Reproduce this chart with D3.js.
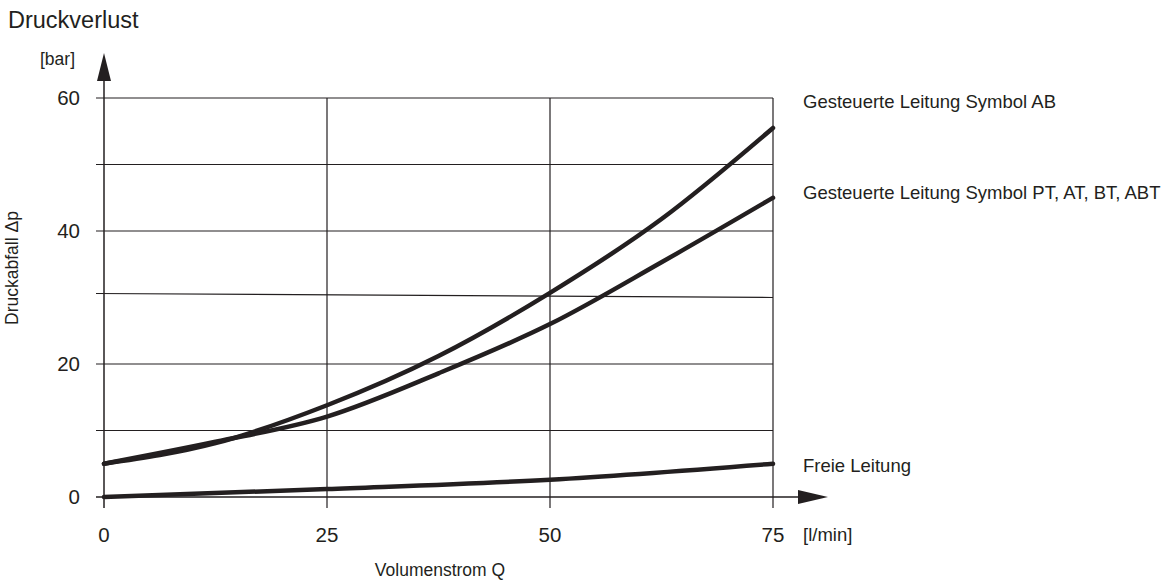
<!DOCTYPE html>
<html>
<head>
<meta charset="utf-8">
<script src="https://cdn.jsdelivr.net/npm/d3@7"></script>
<style>
  body { margin: 0; background: #fff; }
  svg { font-family: "Liberation Sans", Arial, sans-serif; }
</style>
</head>
<body>
<div id="chart"></div>
<script>
// data
const flow = [0, 12.5, 25, 37.5, 50, 62.5, 75];
const symbolAB = [5, 8.1, 13.8, 21.2, 30.7, 41.8, 55.5];
const symbolPT = [5, 8.3, 12.1, 18.6, 26, 35.3, 45];
const freeFlow = [0, 25, 50, 75];
const freeLine = [0, 1.2, 2.6, 5];
const xTicks = [0, 25, 50, 75];
const yTicks = [0, 10, 20, 30, 40, 50, 60];
const yLabels = [0, 20, 40, 60];
const line30 = [30.6, 30.0]; // slightly skewed grid line in the scan
const seriesNames = ["Gesteuerte Leitung Symbol AB", "Gesteuerte Leitung Symbol PT, AT, BT, ABT", "Freie Leitung"];

const width = 1167, height = 582;
const ink = "#231f20";

const svg = d3.select("#chart").append("svg")
    .attr("width", width)
    .attr("height", height);

const x = d3.scaleLinear().domain([0, 75]).range([104, 773]);
const y = d3.scaleLinear().domain([0, 60]).range([497, 98]);

// horizontal grid
svg.append("g")
    .selectAll("line")
    .data(yTicks.filter(d => d !== 30 && d !== 0))
    .join("line")
    .attr("x1", x(0) - 8)
    .attr("x2", x(75))
    .attr("y1", d => y(d))
    .attr("y2", d => y(d))
    .attr("stroke", ink)
    .attr("stroke-width", 1.2);

svg.append("line")
    .attr("x1", x(0) - 8)
    .attr("x2", x(75))
    .attr("y1", y(line30[0]))
    .attr("y2", y(line30[1]))
    .attr("stroke", ink)
    .attr("stroke-width", 1.2);

// vertical grid
svg.append("g")
    .selectAll("line")
    .data(xTicks.filter(d => d !== 0))
    .join("line")
    .attr("x1", d => x(d))
    .attr("x2", d => x(d))
    .attr("y1", y(60))
    .attr("y2", y(0) + 11)
    .attr("stroke", ink)
    .attr("stroke-width", 1.2);

// axes with arrow heads
svg.append("line")
    .attr("x1", x(0)).attr("x2", x(0))
    .attr("y1", y(0) + 11).attr("y2", 70)
    .attr("stroke", ink).attr("stroke-width", 1.5);
svg.append("path")
    .attr("d", `M${x(0)},53 L${x(0) - 7},81 L${x(0) + 7},81 Z`)
    .attr("fill", ink);

svg.append("line")
    .attr("x1", x(0) - 8).attr("x2", 810)
    .attr("y1", y(0)).attr("y2", y(0))
    .attr("stroke", ink).attr("stroke-width", 1.5);
svg.append("path")
    .attr("d", `M828,${y(0)} L798,${y(0) - 7} L798,${y(0) + 7} Z`)
    .attr("fill", ink);

// tick labels
svg.append("g")
    .selectAll("text")
    .data(yLabels)
    .join("text")
    .attr("x", 80)
    .attr("y", d => y(d))
    .attr("dy", "0.35em")
    .attr("text-anchor", "end")
    .attr("font-size", 20.5)
    .attr("fill", ink)
    .text(d => d);

svg.append("g")
    .selectAll("text")
    .data(xTicks)
    .join("text")
    .attr("x", d => x(d))
    .attr("y", 535)
    .attr("dy", "0.35em")
    .attr("text-anchor", "middle")
    .attr("font-size", 20.5)
    .attr("fill", ink)
    .text(d => d);

// curves
const curve = d3.line()
    .x(d => x(d[0]))
    .y(d => y(d[1]))
    .curve(d3.curveMonotoneX);

[d3.zip(flow, symbolAB), d3.zip(flow, symbolPT), d3.zip(freeFlow, freeLine)].forEach(pts => {
    svg.append("path")
        .datum(pts)
        .attr("fill", "none")
        .attr("stroke", ink)
        .attr("stroke-width", 4.5)
        .attr("stroke-linecap", "round")
        .attr("stroke-linejoin", "round")
        .attr("d", curve);
});

// series labels
const labelY = [102, 193, 466];
svg.append("g")
    .selectAll("text")
    .data(seriesNames)
    .join("text")
    .attr("x", 803)
    .attr("y", (d, i) => labelY[i])
    .attr("dy", "0.35em")
    .attr("font-size", 18.5)
    .attr("fill", ink)
    .text(d => d);

// titles
svg.append("text")
    .attr("x", 8).attr("y", 28)
    .attr("font-size", 23.5)
    .attr("fill", ink)
    .text("Druckverlust");

svg.append("text")
    .attr("x", 40).attr("y", 65)
    .attr("font-size", 17.5)
    .attr("fill", ink)
    .text("[bar]");

svg.append("text")
    .attr("x", 803).attr("y", 535)
    .attr("dy", "0.35em")
    .attr("font-size", 18.5)
    .attr("fill", ink)
    .text("[l/min]");

svg.append("text")
    .attr("x", 440).attr("y", 576)
    .attr("text-anchor", "middle")
    .attr("font-size", 17.5)
    .attr("fill", ink)
    .text("Volumenstrom Q");

svg.append("text")
    .attr("transform", "translate(18,268) rotate(-90)")
    .attr("text-anchor", "middle")
    .attr("font-size", 17.5)
    .attr("fill", ink)
    .text("Druckabfall \u0394p");
</script>
</body>
</html>
